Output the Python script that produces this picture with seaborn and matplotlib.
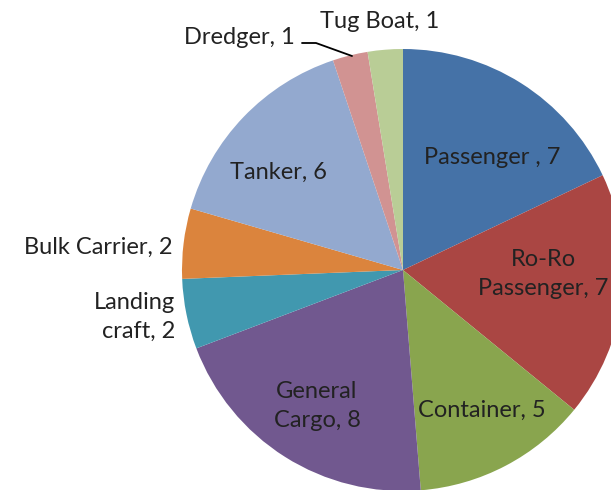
import matplotlib
matplotlib.use("Agg")
import matplotlib.pyplot as plt
import seaborn as sns

categories = ["Passenger", "Ro-Ro Passenger", "Container", "General Cargo",
              "Landing craft", "Bulk Carrier", "Tanker", "Dredger", "Tug Boat"]
values = [7, 7, 5, 8, 2, 2, 6, 1, 1]
label_texts = ["Passenger , 7", "Ro-Ro\nPassenger, 7", "Container, 5", "General\nCargo, 8",
               "Landing\ncraft, 2", "Bulk Carrier, 2", "Tanker, 6", "Dredger, 1", "Tug Boat, 1"]
colors_hex = ["#4572A7", "#AA4643", "#89A54E", "#71588F", "#4198AF",
              "#DB843D", "#93A9CF", "#D19392", "#B9CD96"]

sns.set_theme(style="white")
plt.rcParams['font.family'] = ['Lato', 'DejaVu Sans']
palette = sns.color_palette(colors_hex)

fig = plt.figure(figsize=(6.11, 4.90), dpi=100)
ax = fig.add_axes([0, 0, 1, 1])
ax.pie(values, colors=palette, startangle=90, counterclock=False,
       center=(403, 220), radius=221, wedgeprops=dict(linewidth=0))
ax.set_xlim(0, 611)
ax.set_ylim(0, 490)
ax.set_aspect('auto')
ax.axis('off')

H = 490
pos = {
    "Passenger , 7": (492, H - 157, 'center'),
    "Ro-Ro\nPassenger, 7": (543, H - 274, 'center'),
    "Container, 5": (482, H - 410, 'center'),
    "General\nCargo, 8": (317, H - 406, 'center'),
    "Landing\ncraft, 2": (175, H - 317, 'right'),
    "Bulk Carrier, 2": (173, H - 247, 'right'),
    "Tanker, 6": (278, H - 172, 'center'),
    "Dredger, 1": (295, H - 38, 'right'),
    "Tug Boat, 1": (380, H - 22, 'center'),
}
for t in label_texts:
    x, y, ha = pos[t]
    ax.text(x, y, t, ha=ha, va='center', fontsize=17, color='#222222',
            multialignment=ha, linespacing=1.5)

ax.plot([302, 316, 352], [H - 43, H - 43, H - 56], color='black', linewidth=1.3)

fig.savefig("out.png", dpi=100)
